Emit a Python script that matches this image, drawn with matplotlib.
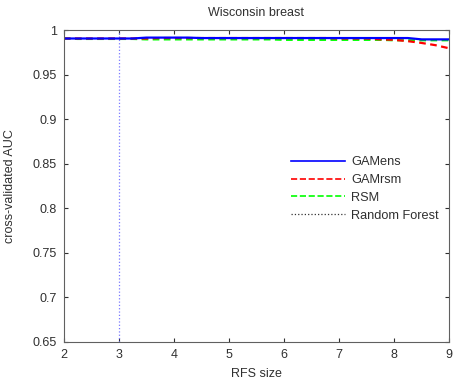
import matplotlib
matplotlib.use("Agg")
import matplotlib.pyplot as plt
from matplotlib.lines import Line2D

plt.rcParams['font.family'] = ['Liberation Sans', 'DejaVu Sans']

# RFS size grid and cross-validated AUC
rfs_size = [2.0, 2.25, 2.5, 2.75, 3.0, 3.25, 3.5, 3.75, 4.0, 4.25, 4.5, 4.75,
            5.0, 5.25, 5.5, 5.75, 6.0, 6.25, 6.5, 6.75, 7.0, 7.25, 7.5, 7.75,
            8.0, 8.25, 8.5, 8.75, 9.0]
gamens = [0.9905, 0.9905, 0.9905, 0.9905, 0.9905, 0.9905, 0.9915, 0.9915,
          0.9915, 0.9915, 0.991, 0.991, 0.991, 0.991, 0.991, 0.991, 0.991,
          0.991, 0.991, 0.991, 0.991, 0.991, 0.991, 0.991, 0.991, 0.991,
          0.9895, 0.9895, 0.9895]
gamrsm = [0.9905, 0.9905, 0.9905, 0.9905, 0.9905, 0.9905, 0.9905, 0.991,
          0.991, 0.991, 0.991, 0.991, 0.991, 0.991, 0.991, 0.991, 0.991,
          0.991, 0.991, 0.991, 0.9905, 0.9905, 0.9905, 0.9895, 0.989, 0.9875,
          0.9855, 0.983, 0.9795]
rsm = [0.9905, 0.99, 0.99, 0.99, 0.99, 0.99, 0.9895, 0.9895, 0.9895, 0.9895,
       0.9895, 0.9895, 0.9895, 0.9895, 0.9895, 0.9895, 0.989, 0.989, 0.989,
       0.989, 0.989, 0.989, 0.989, 0.989, 0.9885, 0.9885, 0.9885, 0.9885,
       0.9885]
rf_size = 3  # best RFS size for Random Forest

x_ticks = [2, 3, 4, 5, 6, 7, 8, 9]
y_ticks = [0.65, 0.7, 0.75, 0.8, 0.85, 0.9, 0.95, 1]
y_labels = ['0.65', '0.7', '0.75', '0.8', '0.85', '0.9', '0.95', '1']

fig = plt.figure(figsize=(4.56, 3.85), dpi=100)
ax = fig.add_axes([0.140, 0.112, 0.845, 0.810])

ax.axvline(rf_size, color='#7a7aff', linestyle=':', linewidth=0.9)
ax.plot(rfs_size, rsm, color='#00ff00', linestyle='--', linewidth=1.6,
        dashes=(3, 2))
ax.plot(rfs_size, gamrsm, color='red', linestyle='--', linewidth=1.6,
        dashes=(3, 2))
ax.plot(rfs_size, gamens, color='blue', linestyle='-', linewidth=1.6)

ax.set_xlim(2, 9)
ax.set_ylim(0.65, 1)
ax.set_xticks(x_ticks)
ax.set_yticks(y_ticks)
ax.set_yticklabels(y_labels)
ax.tick_params(direction='in', length=3, labelsize=9, colors='#303030',
               top=True, right=True, pad=5)
for sp in ax.spines.values():
    sp.set_color('#606060')
    sp.set_linewidth(0.8)

ax.set_xlabel('RFS size', fontsize=9, color='#303030', labelpad=5)
ax.set_ylabel('cross-validated AUC', fontsize=9, color='#303030', labelpad=12)
ax.set_title('Wisconsin breast', fontsize=9, color='#303030', pad=10)

handles = [
    Line2D([], [], color='blue', linestyle='-', linewidth=1.2),
    Line2D([], [], color='red', linestyle='--', linewidth=1.2),
    Line2D([], [], color='#00ff00', linestyle='--', linewidth=1.2),
    Line2D([], [], color='#333333', linestyle=':', linewidth=0.9),
]
leg = ax.legend(handles, ['GAMens', 'GAMrsm', 'RSM', 'Random Forest'],
                loc='upper left', bbox_to_anchor=(0.59, 0.595), frameon=False,
                fontsize=9.2, handlelength=4.2, handletextpad=0.5,
                labelspacing=0.45, borderaxespad=0, borderpad=0)
for t in leg.get_texts():
    t.set_color('#303030')

fig.savefig('out.png', dpi=100)
